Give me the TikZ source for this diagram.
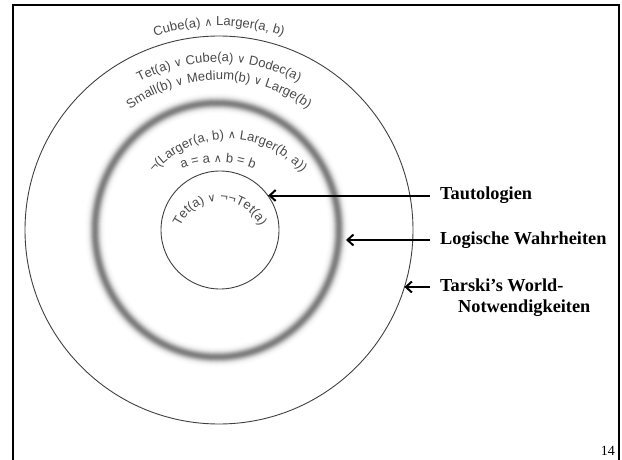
\documentclass[tikz,border=0pt]{standalone}
\usepackage{fontspec}
\setmainfont{Liberation Serif}
\newfontfamily\arcfont{Liberation Sans}
\newfontfamily\symfont{DejaVu Sans}[Scale=0.85]
\usetikzlibrary{arrows.meta,decorations.text,calc}
\definecolor{arcgray}{HTML}{4A4A4A}
\definecolor{linegray}{HTML}{404040}
\newcommand\arcfmt{\arcfont\fontsize{13pt}{15pt}\selectfont\color{arcgray}}
\tikzset{
  arctext/.style={decorate,decoration={text along path,text align=center,text={#1}}},
  lbl/.style={font=\fontsize{18.3pt}{21pt}\selectfont\bfseries,anchor=west,
    inner xsep=10pt,inner ysep=0pt,text height=12.5pt,text depth=4pt},
  arr/.style={line width=2pt,-{Straight Barb[length=6pt,width=11pt]}},
  ringline/.style={draw=linegray,line width=0.9pt},
}
\begin{document}
\begin{tikzpicture}[x=1pt,y=1pt]
\useasboundingbox (0,0) rectangle (622,459);
% frame
\draw[line width=2pt] (12.5,-5) -- (12.5,453.5) -- (619,453.5) -- (619,-5);
\node[font=\fontsize{14pt}{16pt}\selectfont,anchor=base east,inner sep=0pt] (pg) at (615,4) {14};
% centres
\coordinate (oc) at (219,229);
\coordinate (rc) at (217,229);
\coordinate (ic) at (220,229);
% outer circle
\node[circle,ringline,minimum size=388pt,inner sep=0pt] (outer) at (oc) {};
% blurred ring: nested strokes, widest and lightest first
\foreach \d in {10,9.5,...,0.5}{
  \pgfmathsetmacro\p{50*exp(-((\d-0.25)*(\d-0.25))/22)}
  \pgfmathsetmacro\w{2*\d}
  \draw[line width=\w pt,black!\p] (rc) ellipse [x radius=122, y radius=127];
}
% inner circle
\node[circle,ringline,minimum size=118pt,inner sep=0pt] (inner) at (ic) {};
% tips
\coordinate (tipI) at ($(ic)+(35.2:59)$);
\coordinate (tipL) at (346,219);
\coordinate (tipO) at ($(oc)+(-17.1:194)$);
% labels
\node[lbl] (taut) at (430,263.5) {Tautologien};
\node[lbl] (logi) at (430,219) {Logische Wahrheiten};
\node[lbl] (tar1) at (430,172) {Tarski’s World-};
\node[lbl] (tar2) at (448,150.5) {Notwendigkeiten};
\draw[arr] (taut.west) -- (taut.west -| tipI);
\draw[arr] (logi.west) -- (logi.west -| tipL);
\draw[arr] (tar1.west) -- (tar1.west -| tipO);
% arc texts
\path[arctext={|\arcfmt|Cube(a) |\arcfmt\symfont|∧|\arcfmt| Larger(a, b)}]
  ($(oc)+(150:204)$) arc[start angle=150,end angle=30,radius=204];
\path[arctext={|\arcfmt|Tet(a) |\arcfmt\symfont|∨|\arcfmt| Cube(a) |\arcfmt\symfont|∨|\arcfmt| Dodec(a)}]
  ($(oc)+(150:168)$) arc[start angle=150,end angle=30,radius=168];
\path[arctext={|\arcfmt|Small(b) |\arcfmt\symfont|∨|\arcfmt| Medium(b) |\arcfmt\symfont|∨|\arcfmt| Large(b)}]
  ($(oc)+(150:150)$) arc[start angle=150,end angle=30,radius=150];
\coordinate (c4) at (228,223);
\path[arctext={|\arcfmt|¬(Larger(a, b) |\arcfmt\symfont|∧|\arcfmt| Larger(b, a))}]
  ($(c4)+(170:97)$) arc[start angle=170,end angle=10,radius=97];
\coordinate (c5) at (218,197);
\path[arctext={|\arcfmt|a = a |\arcfmt\symfont|∧|\arcfmt| b = b}]
  ($(c5)+(130:100)$) arc[start angle=130,end angle=50,radius=100];
\coordinate (c6) at (220,214);
\path[arctext={|\arcfmt|Tet(a) |\arcfmt\symfont|∨|\arcfmt| ¬¬Tet(a)}]
  ($(c6)+(200:44)$) arc[start angle=200,end angle=-20,radius=44];
\end{tikzpicture}
\end{document}
